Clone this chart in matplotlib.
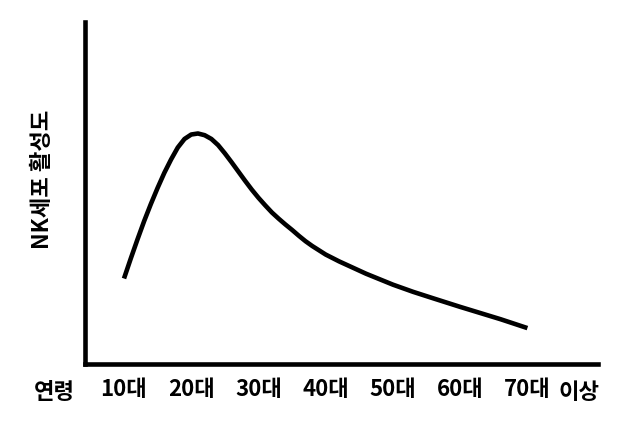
import matplotlib
matplotlib.use("Agg")
import matplotlib.pyplot as plt

plt.rcParams["font.family"] = ["Noto Sans CJK KR", "DejaVu Sans"]

# Curve: age (years) vs NK cell activity (arbitrary units)
ages = [10, 11, 12, 13, 14, 15, 16, 17, 18, 19, 20, 21, 22, 23, 24, 25, 26,
        27, 28, 29, 30, 31, 32, 33, 34, 35, 36, 37, 38, 40, 42, 44, 46, 48,
        50, 53, 56, 60, 63, 66, 70]
activity = [25.0, 30.8, 36.4, 41.8, 46.8, 51.5, 55.9, 59.8, 63.3, 65.8, 67.1,
            67.4, 66.9, 65.8, 64.0, 61.6, 59.0, 56.3, 53.6, 51.0, 48.6, 46.4,
            44.3, 42.5, 40.8, 39.2, 37.5, 35.9, 34.5, 32.0, 30.0, 28.2, 26.4,
            24.8, 23.2, 21.1, 19.2, 16.7, 14.9, 13.1, 10.5]

tick_ages = [10, 20, 30, 40, 50, 60, 70]
tick_labels = ["10대", "20대", "30대", "40대", "50대", "60대", "70대"]

fig = plt.figure(figsize=(6.4, 4.23), dpi=100)
ax = fig.add_axes([85 / 640, 59 / 423, 513 / 640, 342 / 423])

ax.plot(ages, activity, color="black", linewidth=3.3,
        solid_capstyle="butt", solid_joinstyle="round")

ax.set_xlim(4.2, 80.5)
ax.set_ylim(0, 100)

for side in ["top", "right"]:
    ax.spines[side].set_visible(False)
for side in ["left", "bottom"]:
    ax.spines[side].set_linewidth(3.3)
    ax.spines[side].set_color("black")

ax.set_xticks(tick_ages)
ax.set_xticklabels(tick_labels, fontsize=16, fontweight="heavy")
ax.set_yticks([])
ax.tick_params(axis="x", length=0, pad=10)

ax.set_ylabel("NK세포 활성도", fontsize=16, fontweight="heavy")
ax.yaxis.set_label_coords(-0.06, 0.54)

# extra labels on the age axis
fig.text(54 / 640, 1 - 392 / 423, "연령", fontsize=16, fontweight="heavy",
         ha="center", va="center")
fig.text(579 / 640, 1 - 392 / 423, "이상", fontsize=16, fontweight="heavy",
         ha="center", va="center")

fig.savefig("out.png", dpi=100, facecolor="white")
